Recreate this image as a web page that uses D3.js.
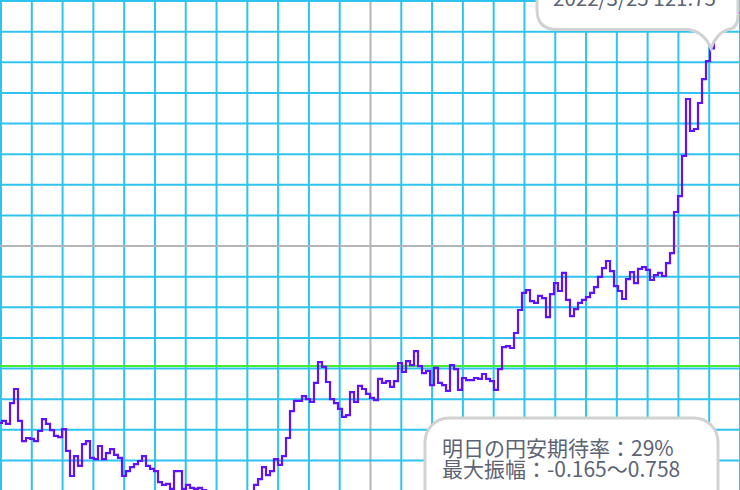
<!DOCTYPE html>
<html>
<head>
<meta charset="utf-8">
<script src="https://cdn.jsdelivr.net/npm/d3@7"></script>
<style>
  html, body { margin: 0; padding: 0; background: #fff; overflow: hidden; }
  #viz-container { width: 740px; height: 490px; }
</style>
</head>
<body>
<div id="viz-container"></div>
<script>
// daily USD/JPY closes (one every ~4px)
let rates = [
  109.52, 109.59, 109.49, 110.17, 110.63, 109.59, 108.93, 109.03, 109.00, 108.93,
  109.26, 109.65, 109.49, 109.29, 109.10, 109.06, 109.32, 108.61, 107.79, 108.44,
  108.12, 108.83, 108.93, 108.38, 108.34, 108.77, 108.34, 108.54, 108.67, 108.48,
  108.38, 107.79, 107.95, 108.08, 108.18, 108.28, 108.44, 108.12, 108.02, 107.95,
  107.59, 107.50, 107.53, 107.37, 107.95, 107.95, 107.37, 107.50, 107.40, 107.37,
  107.40, 107.33, 107.23, 107.14, 106.97, 106.84, 106.97, 107.07, 106.91, 106.78,
  106.88, 107.04, 106.97, 107.17, 107.50, 107.69, 108.08, 107.82, 107.95, 108.34,
  108.15, 108.44, 109.03, 109.91, 110.24, 110.24, 110.40, 110.30, 110.21, 110.83,
  111.51, 111.35, 110.86, 110.30, 110.17, 109.98, 109.72, 109.78, 110.53, 110.21,
  110.73, 110.63, 110.47, 110.34, 110.27, 110.96, 110.83, 110.89, 110.70, 110.89,
  111.48, 111.19, 111.54, 111.41, 111.87, 111.38, 111.15, 111.22, 110.76, 111.32,
  110.83, 110.76, 110.57, 111.41, 111.28, 110.60, 110.99, 110.92, 110.92, 110.99,
  110.96, 111.12, 110.96, 110.89, 110.60, 111.28, 112.00, 112.03, 111.97, 112.46,
  113.21, 113.77, 113.86, 113.50, 113.44, 113.67, 113.60, 112.98, 113.73, 114.09,
  113.83, 114.42, 113.54, 113.01, 113.24, 113.44, 113.54, 113.63, 113.77, 113.96,
  114.29, 114.58, 114.81, 114.48, 113.99, 113.83, 113.57, 114.22, 114.45, 114.09,
  114.55, 114.61, 114.52, 114.19, 114.35, 114.42, 114.32, 114.74, 115.07, 116.41,
  116.93, 118.24, 120.10, 119.06, 119.12, 119.97, 120.75, 121.34, 121.75, 122.32,
  122.48, 122.52, 122.42, 122.45, 122.71, 122.91
];

let yRange = [107.3, 123.3];   // price range shown, one grid row per yen
let refRate = 111.38;          // green reference level
let xDivisions = 24;

let tipIndex = 178;
let tipDate = "2022/3/25";

let expectRate = 29;
let ampLow = -0.165;
let ampHigh = 0.758;

let W = 740, H = 490;
let fontFamily = "'Noto Sans CJK JP', 'Noto Sans', sans-serif";

let viz = d3.select("#viz-container")
  .append("svg")
    .attr("width", W)
    .attr("height", H)
  ;

let x = d3.scaleLinear().domain([0, rates.length - 1]).range([0, W]);
let y = d3.scaleLinear().domain(yRange).range([H + 1, 1]);
let gridX = d3.scaleLinear().domain([0, xDivisions]).range([1, W]);

// grid
let yLevels = d3.range(yRange[0], yRange[1] + 0.01, 1);
let midLevel = (yRange[0] + yRange[1]) / 2;

viz.append("g").selectAll("line").data(d3.range(0, xDivisions + 1)).enter()
  .append("line")
    .attr("x1", d => gridX(d))
    .attr("x2", d => gridX(d))
    .attr("y1", 0)
    .attr("y2", H)
    .style("stroke", d => d == xDivisions / 2 ? "#b5b5b5" : "#2fc3f0")
    .style("stroke-width", 2)
  ;

viz.append("g").selectAll("line").data(yLevels).enter()
  .append("line")
    .attr("x1", 0)
    .attr("x2", W)
    .attr("y1", d => y(d))
    .attr("y2", d => y(d))
    .style("stroke", d => Math.abs(d - midLevel) < 0.01 ? "#b5b5b5" : "#2fc3f0")
    .style("stroke-width", 2)
  ;

// reference level
viz.append("line")
    .attr("x1", 0)
    .attr("x2", W)
    .attr("y1", y(refRate))
    .attr("y2", y(refRate))
    .style("stroke", "#46ec2e")
    .style("stroke-width", 2)
  ;

// price line
let line = d3.line()
  .x((d, i) => x(i))
  .y(d => y(d))
  .curve(d3.curveStep);

viz.append("path")
    .datum(rates)
    .attr("d", line)
    .style("fill", "none")
    .style("stroke", "#5f12ff")
    .style("stroke-width", 2.2)
  ;

// tooltip bubble at the hovered point
let px = x(tipIndex), py = y(rates[tipIndex]);
let bLeft = px - 175, bRight = px + 26, bTop = -40, bBottom = py - 19, br = 20;
let bubble = d3.path();
bubble.moveTo(bLeft + br, bTop);
bubble.lineTo(bRight, bTop);
bubble.lineTo(bRight, bBottom - 14);
bubble.quadraticCurveTo(bRight, bBottom - 1, bRight - 10, bBottom);
bubble.quadraticCurveTo(px + 4, bBottom + 4, px - 1, py);
bubble.quadraticCurveTo(px - 8, bBottom + 2, px - 24, bBottom);
bubble.lineTo(bLeft + br, bBottom);
bubble.quadraticCurveTo(bLeft, bBottom, bLeft, bBottom - br);
bubble.lineTo(bLeft, bTop + br);
bubble.closePath();

viz.append("path")
    .attr("d", bubble.toString())
    .style("fill", "white")
    .style("stroke", "#d2d2d2")
    .style("stroke-width", 3)
  ;

viz.append("text")
    .attr("x", bLeft + 16)
    .attr("y", py - 42)
    .style("font-family", fontFamily)
    .style("font-size", "20.5px")
    .style("fill", "#5c6374")
    .text(tipDate + " " + rates[tipIndex].toFixed(2))
  ;

// expectation box
viz.append("rect")
    .attr("x", 425)
    .attr("y", 418)
    .attr("width", 293)
    .attr("height", 110)
    .attr("rx", 24)
    .style("fill", "white")
    .style("stroke", "#d2d2d2")
    .style("stroke-width", 3)
  ;

let boxLines = [
  "明日の円安期待率：" + expectRate + "%",
  "最大振幅：" + ampLow + "〜" + ampHigh
];

viz.append("g").selectAll("text").data(boxLines).enter()
  .append("text")
    .attr("x", 442)
    .attr("y", (d, i) => 455.5 + i * 21.5)
    .style("font-family", fontFamily)
    .style("font-size", "21px")
    .style("fill", "#5c6374")
    .text(d => d)
  ;
</script>
</body>
</html>
